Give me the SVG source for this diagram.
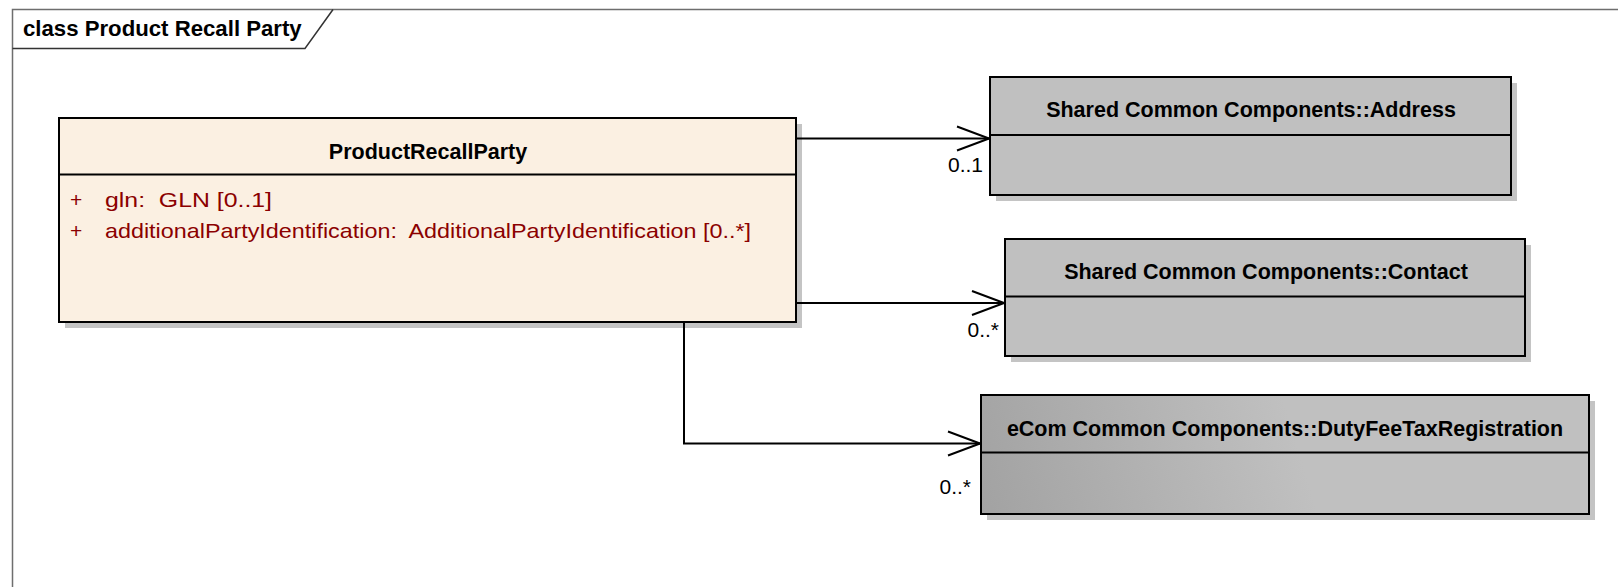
<svg xmlns="http://www.w3.org/2000/svg" width="1618" height="587" viewBox="0 0 1618 587">
<style>
.name{font-family:"Liberation Sans",Arial,sans-serif;font-weight:bold;font-size:21.5px;fill:#000;text-anchor:middle}
.title{font-family:"Liberation Sans",Arial,sans-serif;font-weight:bold;font-size:22.2px;fill:#000}
.attr{font-family:"Liberation Sans",Arial,sans-serif;font-size:21px;fill:#8b0000}
.mult{font-family:"Liberation Sans",Arial,sans-serif;font-size:21px;fill:#000;text-anchor:end}
.box{stroke:#000;stroke-width:2}
.shadow{fill:#c4c4c4}
.div{stroke:#000;stroke-width:2}
.conn{fill:none;stroke:#000;stroke-width:2}
</style>
<defs>
<marker id="open" viewBox="0 0 34 28" refX="33" refY="14" markerWidth="34" markerHeight="28" markerUnits="userSpaceOnUse" orient="auto">
<path d="M1,2 L33,14 L1,26" fill="none" stroke="#000" stroke-width="2"/>
</marker>
<linearGradient id="grad" gradientUnits="userSpaceOnUse" x1="981" y1="514" x2="1290" y2="420">
<stop offset="0" stop-color="#a2a2a2"/>
<stop offset="1" stop-color="#c0c0c0"/>
</linearGradient>
</defs>
<rect width="1618" height="587" fill="#fff"/>
<g id="frame">
<path d="M12.5,587 V9.5 H1618" fill="none" stroke="#6e6e6e" stroke-width="1.5"/>
<path d="M12.5,48.5 H305 L333,9.5" fill="none" stroke="#333" stroke-width="1.5"/>
<text class="title" x="23" y="36">class Product Recall Party</text>
</g>
<g id="ProductRecallParty">
<rect class="shadow" x="65" y="124" width="737" height="204"/>
<rect class="box" x="59" y="118" width="737" height="204" fill="#fbf0e2"/>
<line class="div" x1="59" y1="174.5" x2="796" y2="174.5"/>
<text class="name" x="428" y="159">ProductRecallParty</text>
<text class="attr" x="70" y="207">+</text>
<text class="attr" x="105" y="207" xml:space="preserve" textLength="167" lengthAdjust="spacingAndGlyphs">gln:  GLN [0..1]</text>
<text class="attr" x="70" y="238">+</text>
<text class="attr" x="105" y="238" xml:space="preserve" textLength="646" lengthAdjust="spacingAndGlyphs">additionalPartyIdentification:  AdditionalPartyIdentification [0..*]</text>
</g>
<g id="Address">
<rect class="shadow" x="996" y="83" width="521" height="118"/>
<rect class="box" x="990" y="77" width="521" height="118" fill="#c0c0c0"/>
<line class="div" x1="990" y1="135" x2="1511" y2="135"/>
<text class="name" x="1251" y="117">Shared Common Components::Address</text>
</g>
<g id="Contact">
<rect class="shadow" x="1011" y="245" width="520" height="117"/>
<rect class="box" x="1005" y="239" width="520" height="117" fill="#c0c0c0"/>
<line class="div" x1="1005" y1="296.5" x2="1525" y2="296.5"/>
<text class="name" x="1266" y="279">Shared Common Components::Contact</text>
</g>
<g id="DutyFeeTaxRegistration">
<rect class="shadow" x="987" y="401" width="608" height="119"/>
<rect class="box" x="981" y="395" width="608" height="119" fill="url(#grad)"/>
<line class="div" x1="981" y1="452.5" x2="1589" y2="452.5"/>
<text class="name" x="1285" y="436">eCom Common Components::DutyFeeTaxRegistration</text>
</g>
<g id="connectors">
<path class="conn" d="M796,138.5 H989" marker-end="url(#open)"/>
<path class="conn" d="M796,303 H1004" marker-end="url(#open)"/>
<path class="conn" d="M684,322 V443.5 H980" marker-end="url(#open)"/>
<text class="mult" x="983" y="172">0..1</text>
<text class="mult" x="999" y="337">0..*</text>
<text class="mult" x="971" y="494">0..*</text>
</g>
</svg>
